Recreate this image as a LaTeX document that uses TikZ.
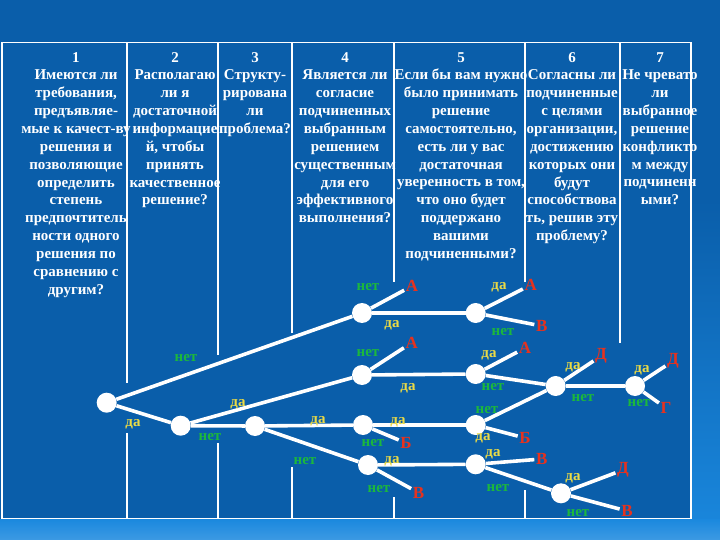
\documentclass[tikz,border=0pt]{standalone}
\usepackage{fontspec}
\setmainfont{Liberation Serif}
\usetikzlibrary{positioning}

\definecolor{bgblue}{RGB}{10,94,170}
\definecolor{lightblue}{RGB}{26,136,222}
\definecolor{yescol}{RGB}{234,218,70}
\definecolor{nocol}{RGB}{28,184,60}
\definecolor{leafcol}{RGB}{230,50,30}

\tikzset{
  head/.style={text=white, font=\bfseries\fontsize{15}{17.85}\selectfont, align=center, anchor=north, inner sep=0pt},
  tabline/.style={draw=white, line width=1.1pt},
  branch/.style={draw=white, line width=3.6pt},
  knot/.style={circle, fill=white, minimum size=20pt, inner sep=0pt},
  yeslab/.style={text=yescol, font=\bfseries\fontsize{15}{15}\selectfont, inner sep=0pt},
  nolab/.style={text=nocol, font=\bfseries\fontsize{15}{15}\selectfont, inner sep=0pt},
  leaf/.style={text=leafcol, font=\bfseries\fontsize{17}{17}\selectfont, inner sep=1.5pt},
}

\begin{document}
\begin{tikzpicture}[x=1pt,y=-1pt]
\useasboundingbox (0,0) rectangle (720,540);
% background
\fill[bgblue] (0,0) rectangle (720,540);
\shade[top color=bgblue, bottom color=lightblue] (692,200) rectangle (720,540);
\shade[top color=lightblue, bottom color=lightblue!85!white] (0,519) rectangle (720,540);

% table
\draw[tabline] (2,42.5) rectangle (691,518.5);
\draw[tabline] (127,42.5) -- (127,383);
\draw[tabline] (127,433) -- (127,518.5);
\draw[tabline] (218,42.5) -- (218,355);
\draw[tabline] (218,443) -- (218,518.5);
\draw[tabline] (292,42.5) -- (292,333);
\draw[tabline] (292,467) -- (292,518.5);
\draw[tabline] (394,42.5) -- (394,282);
\draw[tabline] (394,497) -- (394,518.5);
\draw[tabline] (525,42.5) -- (525,282);
\draw[tabline] (525,490) -- (525,518.5);
\draw[tabline] (620,42.5) -- (620,343);

% column headers
\node[head] (h1) at (76,52) {1\\Имеются ли\\требования,\\предъявляе-\\мые к качест-ву\\решения и\\позволяющие\\определить\\степень\\предпочтитель\\ности одного\\решения по\\сравнению с\\другим?};
\node[head] (h2) at (175,52) {2\\Располагаю\\ли я\\достаточной\\информацие\\й, чтобы\\принять\\качественное\\решение?};
\node[head] (h3) at (255,52) {3\\Структу-\\рирована\\ли\\проблема?};
\node[head] (h4) at (345,52) {4\\Является ли\\согласие\\подчиненных\\выбранным\\решением\\существенным\\для его\\эффективного\\выполнения?};
\node[head] (h5) at (461,52) {5\\Если бы вам нужно\\было принимать\\решение\\самостоятельно,\\есть ли у вас\\достаточная\\уверенность в том,\\что оно будет\\поддержано\\вашими\\подчиненными?};
\node[head] (h6) at (572,52) {6\\Согласны ли\\подчиненные\\с целями\\организации,\\достижению\\которых они\\будут\\способствова\\ть, решив эту\\проблему?};
\node[head] (h7) at (660,52) {7\\Не чревато\\ли\\выбранное\\решение\\конфликто\\м между\\подчиненн\\ыми?};

% decision points
\node[knot] (q1) at (106.7,402.7) {};
\node[knot] (q2) at (180.7,425.7) {};
\node[knot] (q3) at (255,426) {};
\node[knot] (q4a) at (362,313) {};
\node[knot] (q4b) at (362,375) {};
\node[knot] (q4c) at (363,425) {};
\node[knot] (q4d) at (368,465) {};
\node[knot] (q5a) at (475.7,313) {};
\node[knot] (q5b) at (475.7,374) {};
\node[knot] (q5c) at (475.7,425) {};
\node[knot] (q5d) at (475.7,464.3) {};
\node[knot] (q6a) at (555.7,386) {};
\node[knot] (q6b) at (561,493.3) {};
\node[knot] (q7) at (635,386) {};

% outcomes
\node[leaf] (r1) at (412,286) {А};
\node[leaf] (r2) at (530.7,285) {А};
\node[leaf] (r3) at (541.7,326) {В};
\node[leaf] (r4) at (411.7,342.7) {А};
\node[leaf] (r5) at (525,348) {А};
\node[leaf] (r6) at (406,443) {Б};
\node[leaf] (r7) at (525,438) {Б};
\node[leaf] (r8) at (418.5,492.7) {В};
\node[leaf] (r9) at (541.7,459) {В};
\node[leaf] (r10) at (601,356) {Д};
\node[leaf] (r11) at (673,361) {Д};
\node[leaf] (r12) at (666,408) {Г};
\node[leaf] (r13) at (623,470) {Д};
\node[leaf] (r14) at (627,511) {В};

% branches
\draw[branch] (q1) -- (q4a);
\draw[branch] (q1) -- (q2);
\draw[branch] (q2) -- (q4b);
\draw[branch] (q2) -- (q3);
\draw[branch] (q3) -- (q4c);
\draw[branch] (q3) -- (q4d);
\draw[branch] (q4a) -- (r1);
\draw[branch] (q4a) -- (q5a);
\draw[branch] (q5a) -- (r2);
\draw[branch] (q5a) -- (r3);
\draw[branch] (q4b) -- (r4);
\draw[branch] (q4b) -- (q5b);
\draw[branch] (q5b) -- (r5);
\draw[branch] (q5b) -- (q6a);
\draw[branch] (q4c) -- (q5c);
\draw[branch] (q4c) -- (r6);
\draw[branch] (q5c) -- (q6a);
\draw[branch] (q5c) -- (r7);
\draw[branch] (q4d) -- (q5d);
\draw[branch] (q4d) -- (r8);
\draw[branch] (q5d) -- (r9);
\draw[branch] (q5d) -- (q6b);
\draw[branch] (q6a) -- (r10);
\draw[branch] (q6a) -- (q7);
\draw[branch] (q7) -- (r11);
\draw[branch] (q7) -- (r12);
\draw[branch] (q6b) -- (r13);
\draw[branch] (q6b) -- (r14);

% answers
\node[nolab] (a1) at (186,358) {нет};
\node[yeslab] (a2) at (133,424) {да};
\node[yeslab] (a3) at (238,404) {да};
\node[nolab] (a4) at (210,437) {нет};
\node[yeslab] (a5) at (318,421) {да};
\node[nolab] (a6) at (305,461) {нет};
\node[nolab] (a7) at (368,287) {нет};
\node[yeslab] (a8) at (392,325) {да};
\node[yeslab] (a9) at (499,287) {да};
\node[nolab] (a10) at (503,332) {нет};
\node[nolab] (a11) at (368,353) {нет};
\node[yeslab] (a12) at (408,388) {да};
\node[yeslab] (a13) at (489,355) {да};
\node[nolab] (a14) at (493,387) {нет};
\node[yeslab] (a15) at (398,422) {да};
\node[nolab] (a16) at (373,443) {нет};
\node[nolab] (a17) at (487,410) {нет};
\node[yeslab] (a18) at (483,438) {да};
\node[yeslab] (a19) at (392,461) {да};
\node[nolab] (a20) at (379,489) {нет};
\node[yeslab] (a21) at (493,454) {да};
\node[nolab] (a22) at (498,488) {нет};
\node[yeslab] (a23) at (573,367) {да};
\node[nolab] (a24) at (583,398) {нет};
\node[yeslab] (a25) at (642,370) {да};
\node[nolab] (a26) at (639,403) {нет};
\node[yeslab] (a27) at (573,478) {да};
\node[nolab] (a28) at (578,513) {нет};
\end{tikzpicture}
\end{document}
